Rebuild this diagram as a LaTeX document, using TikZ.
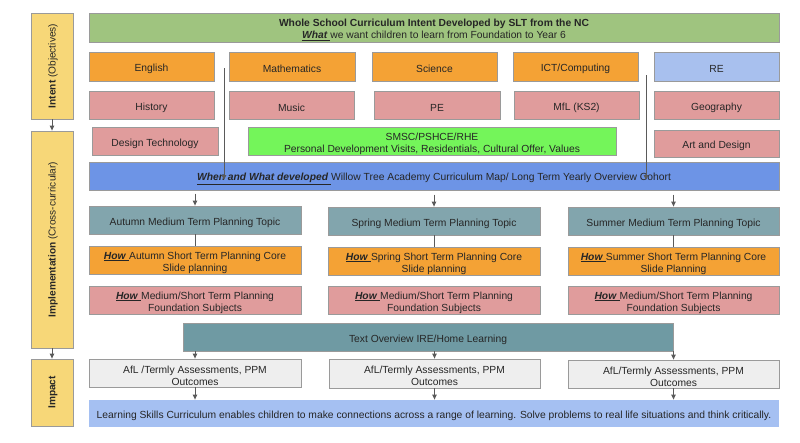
\documentclass[tikz,border=0pt]{standalone}
\usepackage{fontspec}
\setmainfont{Liberation Sans}
\usetikzlibrary{arrows.meta}
\definecolor{hdrgreen}{HTML}{9FC47F}
\definecolor{orng}{HTML}{F4A235}
\definecolor{pnk}{HTML}{E09C9C}
\definecolor{lblue}{HTML}{A8C0EE}
\definecolor{brgreen}{HTML}{74F55A}
\definecolor{midblue}{HTML}{6D94E6}
\definecolor{teal1}{HTML}{82A5AD}
\definecolor{teal2}{HTML}{6F9AA3}
\definecolor{lgray}{HTML}{EEEEEE}
\definecolor{botblue}{HTML}{A5C0F2}
\definecolor{yel}{HTML}{F7D778}
\definecolor{edge}{HTML}{9A9A9A}
\definecolor{conn}{HTML}{5A5A5A}
\newcommand\ubi[1]{\underline{\textbf{\textit{#1}}\ }}
\newcommand\bx[7]{\node[boxst,#6,minimum width={#4-#2},minimum height={#5-#3}] (#1) at ({(#2+#4)/2},{(#3+#5)/2}) {};
  \node[boxtxt] (#1-t) at ([yshift=-2.5pt]#1.center) {#7};}
\tikzset{
  boxst/.style={draw=edge,line width=0.8pt,inner sep=0pt},
  boxtxt/.style={inner sep=0pt,align=center,font=\fontsize{10.3}{12}\selectfont,text=black!85},
  sidetxt/.style={rotate=90,font=\fontsize{10.1}{12}\selectfont,text=black!85},
  arr/.style={draw=conn,line width=1pt,-{Triangle[length=5pt,width=4.5pt]}},
  ln/.style={draw=conn,line width=1pt},
}
\begin{document}
\begin{tikzpicture}[x=1pt,y=-1pt]
\useasboundingbox (0,0) rectangle (800,442);
% left column
\bx{intent}{31}{13}{73}{119}{fill=yel}{}
\bx{impl}{31}{131}{73}{348}{fill=yel}{}
\bx{impact}{31}{359}{73}{426}{fill=yel}{}
\node[sidetxt] (intentt) at ([xshift=1pt]intent.center) {\textbf{Intent} (Objectives)};
\node[sidetxt] (implt) at ([xshift=1pt]impl.center) {\textbf{Implementation} (Cross-curricular)};
\node[sidetxt] (impactt) at ([xshift=1pt]impact.center) {\textbf{Impact}};
\draw[arr] (intent.south) -- (impl.north);
\draw[arr] (impl.south) -- (impact.north);
% header
\bx{hdr}{89}{13}{779}{42}{fill=hdrgreen}{\textbf{Whole School Curriculum Intent Developed by SLT from the NC}\\\ubi{What}we want children to learn from Foundation to Year 6}
% row 1
\bx{eng}{89}{52}{214}{81}{fill=orng}{English}
\bx{math}{229}{52}{355}{81}{fill=orng}{Mathematics}
\bx{sci}{372}{52}{497}{81}{fill=orng}{Science}
\bx{ict}{513}{52}{638}{81}{fill=orng}{ICT/Computing}
\bx{re}{654}{52}{779}{81}{fill=lblue}{RE}
% row 2
\bx{hist}{89}{91}{214}{119}{fill=pnk}{History}
\bx{mus}{229}{91}{354}{119}{fill=pnk}{Music}
\bx{pe}{374}{91}{500}{119}{fill=pnk}{PE}
\bx{mfl}{514}{91}{639}{119}{fill=pnk}{MfL (KS2)}
\bx{geo}{654}{91}{779}{119}{fill=pnk}{Geography}
% row 3
\bx{dt}{92}{127}{218}{155}{fill=pnk}{Design Technology}
\bx{smsc}{248}{127}{616}{155}{fill=brgreen}{SMSC/PSHCE/RHE\\Personal Development Visits, Residentials, Cultural Offer, Values}
\bx{art}{654}{130}{779}{157}{fill=pnk}{Art and Design}
% blue bar
\bx{map}{89}{162}{779}{190}{fill=midblue}{\ubi{When and What developed}Willow Tree Academy Curriculum Map/ Long Term Yearly Overview Cohort}
\coordinate (la) at (224,68);
\coordinate (lb) at (646,75);
\coordinate (ta) at (224,180);
\coordinate (tb) at (646,180);
\draw[arr] (la) -- (ta);
\draw[arr] (lb) -- (tb);
% row 4
\bx{aut}{89}{206}{301}{234}{fill=teal1}{Autumn Medium Term Planning Topic}
\bx{spr}{328}{207}{540}{235}{fill=teal1}{Spring Medium Term Planning Topic}
\bx{sum}{568}{207}{779}{235}{fill=teal1}{Summer Medium Term Planning Topic}
\foreach \n in {aut,spr,sum}{\draw[arr] ([yshift=12pt]\n.north) -- (\n.north);}
% row 5
\bx{auth}{89}{246}{301}{274}{fill=orng}{\ubi{How}Autumn Short Term Planning Core\\Slide planning}
\bx{sprh}{328}{247}{540}{275}{fill=orng}{\ubi{How}Spring Short Term Planning Core\\Slide planning}
\bx{sumh}{568}{247}{779}{275}{fill=orng}{\ubi{How}Summer Short Term Planning Core\\Slide Planning}
\draw[ln] (aut.south) -- (auth.north);
\draw[ln] (spr.south) -- (sprh.north);
\draw[ln] (sum.south) -- (sumh.north);
% row 6
\bx{autf}{89}{286}{301}{314}{fill=pnk}{\ubi{How}Medium/Short Term Planning\\Foundation Subjects}
\bx{sprf}{328}{286}{540}{314}{fill=pnk}{\ubi{How}Medium/Short Term Planning\\Foundation Subjects}
\bx{sumf}{568}{286}{779}{314}{fill=pnk}{\ubi{How}Medium/Short Term Planning\\Foundation Subjects}
% text overview
\bx{txt}{183}{323}{673}{351}{fill=teal2}{Text Overview IRE/Home Learning}
% row 8
\bx{afa}{89}{359}{301}{387}{fill=lgray}{AfL /Termly Assessments, PPM\\Outcomes}
\bx{afb}{329}{359}{540}{388}{fill=lgray}{AfL/Termly Assessments, PPM\\Outcomes}
\bx{afc}{568}{360}{779}{388}{fill=lgray}{AfL/Termly Assessments, PPM\\Outcomes}
\draw[arr] (txt.south -| afa.north) -- (afa.north);
\draw[arr] (txt.south -| afb.north) -- (afb.north);
\draw[arr] (txt.south -| afc.north) -- (afc.north);
% bottom
\bx{learn}{89}{400}{779}{427}{fill=botblue,draw=none}{Learning Skills Curriculum enables children to make connections across a range of learning. Solve problems to real life situations and think critically.}
\draw[arr] (afa.south) -- (afa.south |- learn.north);
\draw[arr] (afb.south) -- (afb.south |- learn.north);
\draw[arr] (afc.south) -- (afc.south |- learn.north);
\end{tikzpicture}
\end{document}
